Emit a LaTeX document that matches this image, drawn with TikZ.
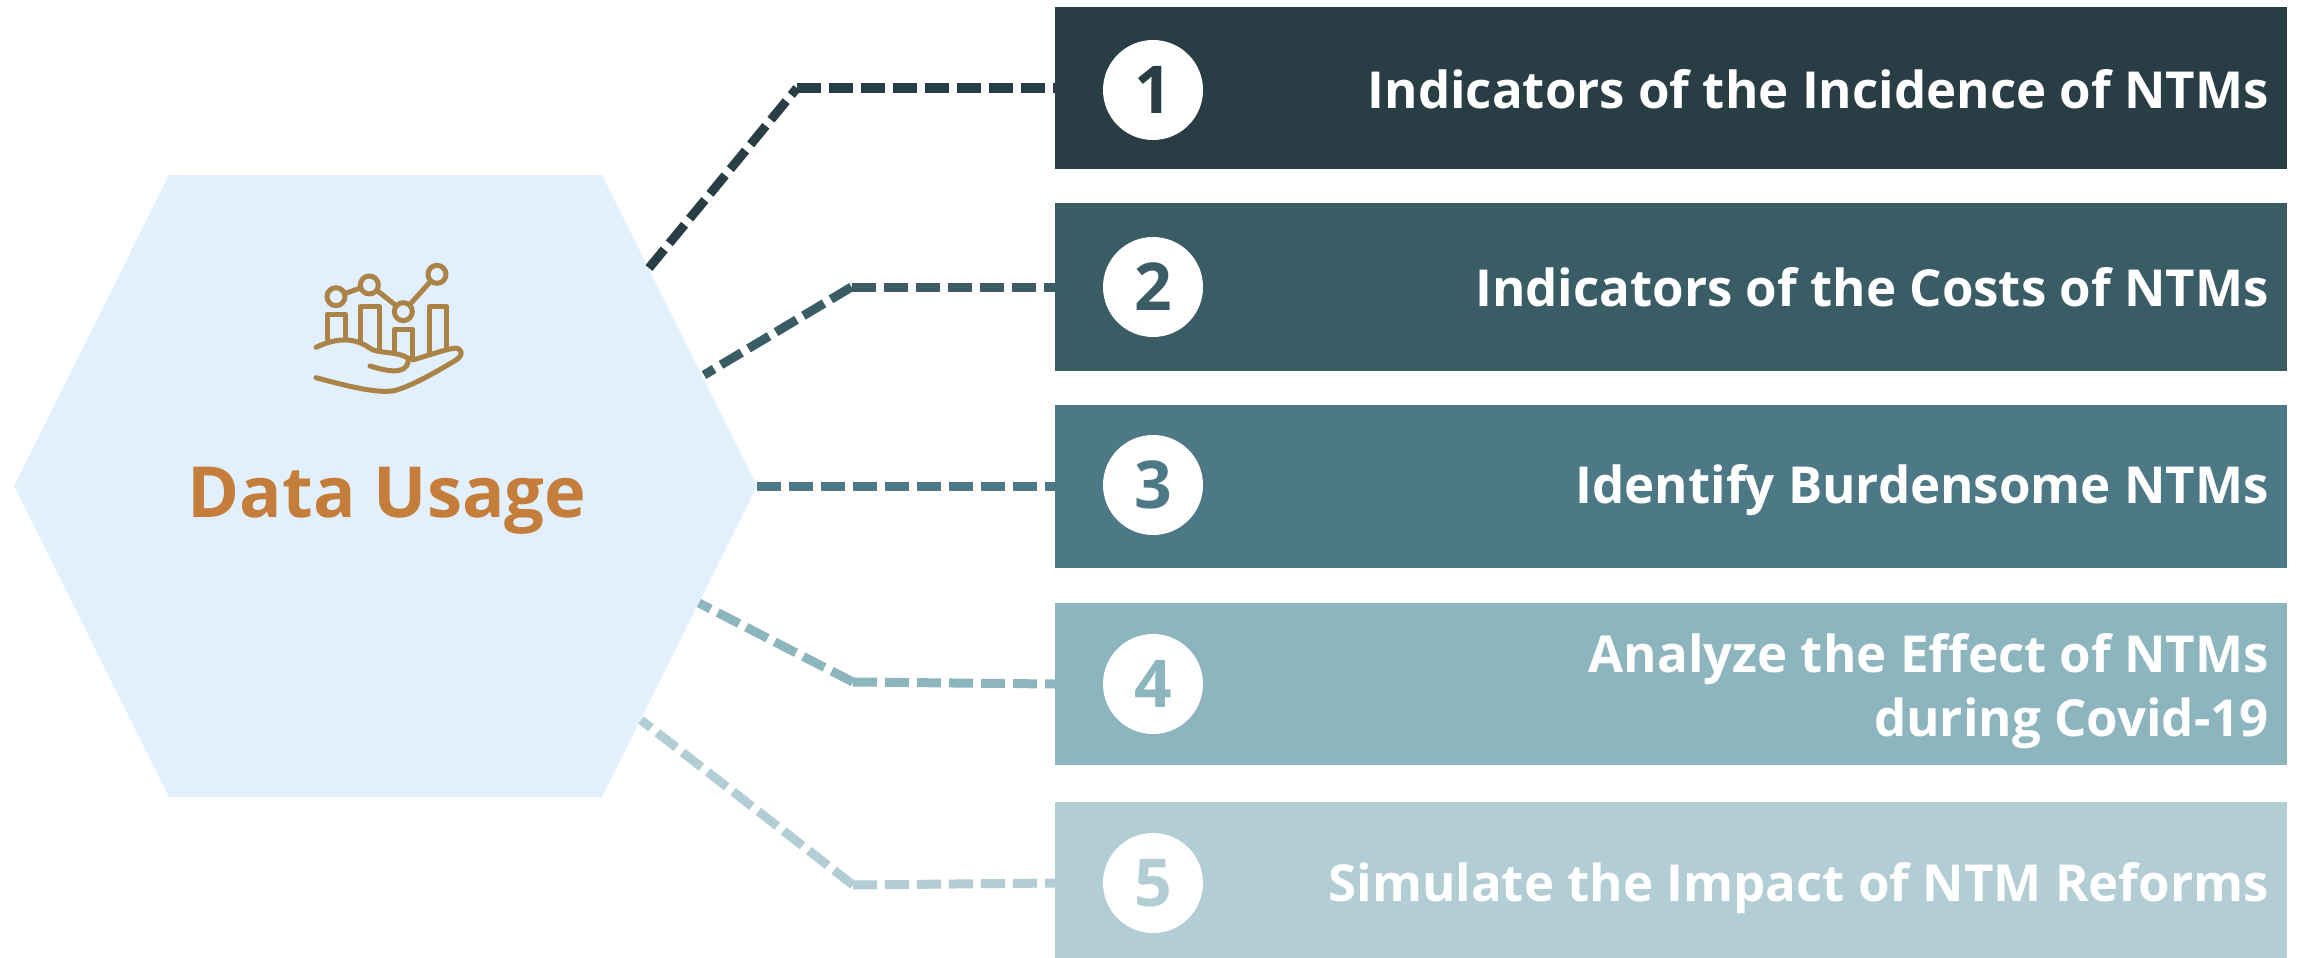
\documentclass[tikz,border=0pt]{standalone}
\usepackage{fontspec}
\setmainfont{Open Sans}
\usetikzlibrary{calc}
\definecolor{cA}{HTML}{293D44}
\definecolor{cB}{HTML}{3A5C65}
\definecolor{cC}{HTML}{4C7985}
\definecolor{cD}{HTML}{8CB5BD}
\definecolor{cE}{HTML}{B3CDD4}
\definecolor{hexfill}{HTML}{E1F0FC}
\definecolor{titlecol}{HTML}{C47D3A}
\definecolor{iconcol}{HTML}{AB8347}
\tikzset{
  x=1pt,y=-1pt,
  band/.style={inner sep=0pt,outer sep=0pt,minimum width=1232pt,anchor=north west},
  badge/.style={circle,fill=white,inner sep=0pt,outer sep=0pt,minimum size=100pt,font=\fontsize{66}{66}\selectfont\bfseries},
  label/.style={text=white,anchor=base east,align=right,inner sep=0pt,font=\fontsize{51}{64}\selectfont\bfseries},
  conn/.style={line width=9pt,dash pattern=on 24pt off 8pt},
  iconline/.style={draw=iconcol,line width=5pt,line cap=round,line join=round},
}
\begin{document}
\begin{tikzpicture}
\useasboundingbox (0,0) rectangle (2303,958);
\fill[white] (0,0) rectangle (2303,958);
% hexagon
\coordinate (hw) at (14,486);
\coordinate (hnw) at (169,175);
\coordinate (hne) at (602,175);
\coordinate (he) at (757,486);
\coordinate (hse) at (602,797);
\coordinate (hsw) at (169,797);
\fill[hexfill] (hw) -- (hnw) -- (hne) -- (he) -- (hse) -- (hsw) -- cycle;
\node[inner sep=0pt,anchor=base,text=titlecol,font=\fontsize{70.5}{70}\selectfont\bfseries] (title) at (387,517) {Data Usage};
% bands
\node[band,fill=cA,minimum height=162pt] (r1) at (1055,7) {};
\node[band,fill=cB,minimum height=168pt] (r2) at (1055,203) {};
\node[band,fill=cC,minimum height=163pt] (r3) at (1055,405) {};
\node[band,fill=cD,minimum height=162pt] (r4) at (1055,603) {};
\node[band,fill=cE,minimum height=156pt] (r5) at (1055,802) {};
\node[badge,text=cA] (n1) at (1153,90) {1};
\node[badge,text=cB] (n2) at (1153,287) {2};
\node[badge,text=cC] (n3) at (1153,485) {3};
\node[badge,text=cD] (n4) at (1153,684) {4};
\node[badge,text=cE] (n5) at (1153,883) {5};
\node[label] (t1) at (2269,108) {Indicators of the Incidence of NTMs};
\node[label] (t2) at (2269,306) {Indicators of the Costs of NTMs};
\node[label] (t3) at (2269,503) {Identify Burdensome NTMs};
\node[label] (t4) at (2269,736) {Analyze the Effect of NTMs\\during Covid-19};
\node[label] (t5) at (2269,901) {Simulate the Impact of NTM Reforms};
% connectors
\coordinate (s1) at (649,268); \coordinate (b1) at (797,88); \coordinate (e1) at (1055,88);
\coordinate (s2) at (704,375); \coordinate (b2) at (851.5,287); \coordinate (e2) at (1055,287);
\coordinate (e3) at (1055,486);
\coordinate (s4) at (699,603); \coordinate (b4) at (853,682); \coordinate (e4) at (1055,684);
\coordinate (s5) at (641,720); \coordinate (b5) at (853,885); \coordinate (e5) at (1055,883);
\draw[conn,cA] (s1) -- (b1);
\draw[conn,cA] (b1) -- (e1);
\draw[conn,cB] (b2) -- (s2);
\draw[conn,cB] (b2) -- (e2);
\draw[conn,cC] (he) -- (e3);
\draw[conn,cD] (b4) -- (s4);
\draw[conn,cD] (b4) -- (e4);
\draw[conn,cE] (b5) -- (s5);
\draw[conn,cE] (b5) -- (e5);
% icon
\begin{scope}[shift={(280,230)},x=0.33333pt,y=-0.33333pt]
  \draw[iconline] (168,200) circle[radius=27];
  \draw[iconline] (268,165) circle[radius=27];
  \draw[iconline] (370,245) circle[radius=27];
  \draw[iconline] (471,133) circle[radius=27];
  \draw[iconline] (194,191) -- (242,174);
  \draw[iconline] (292,182) -- (347,226);
  \draw[iconline] (389,224) -- (451,155);
  \draw[iconline] (142,328) -- (142,252) -- (196,252) -- (196,325);
  \draw[iconline] (242,332) -- (242,230) -- (298,230) -- (298,358);
  \draw[iconline] (344,362) -- (344,297) -- (398,297) -- (398,388);
  \draw[iconline] (447,368) -- (447,230) -- (500,230) -- (500,352);
  \draw[iconline] (108,352) .. controls (170,322) and (225,322) .. (270,355)
     .. controls (295,372) and (350,362) .. (385,385);
  \draw[iconline] (398,390) .. controls (440,378) and (490,360) .. (520,355)
     .. controls (545,350) and (555,375) .. (525,392)
     .. controls (470,425) and (400,465) .. (350,480)
     .. controls (300,495) and (190,465) .. (108,443);
  \draw[iconline] (270,408) .. controls (310,420) and (350,430) .. (372,415)
     .. controls (385,405) and (385,395) .. (385,385);
\end{scope}
\end{tikzpicture}
\end{document}
